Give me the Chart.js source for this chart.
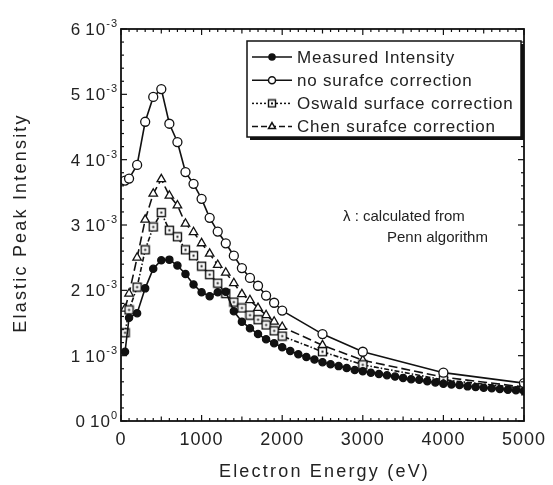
<!DOCTYPE html>
<html>
<head>
<meta charset="utf-8">
<script src="https://cdn.jsdelivr.net/npm/chart.js@4"></script>
<style>
  body { margin: 0; background: #fff; }
  #myChart { display: block; }
</style>
</head>
<body>
<canvas id="myChart" width="553" height="485"></canvas>
<script>
// values, intensity in units of 10^-3
var measuredE = [50,100,200,300,400,500,600,700,800,900,1000,1100,1200,1300,1400,1500,1600,1700,1800,1900,2000,
  2100,2200,2300,2400,2500,2600,2700,2800,2900,3000,3100,3200,3300,3400,3500,3600,3700,3800,3900,4000,
  4100,4200,4300,4400,4500,4600,4700,4800,4900,5000]
var measured = [1.06,1.58,1.65,2.03,2.33,2.46,2.47,2.38,2.25,2.09,1.97,1.91,1.97,1.98,1.68,1.52,1.42,1.33,1.25,1.19,1.13,
  1.07,1.02,0.98,0.94,0.90,0.87,0.84,0.81,0.78,0.76,0.74,0.72,0.70,0.68,0.66,0.64,0.63,0.61,0.59,0.57,
  0.56,0.55,0.53,0.52,0.51,0.50,0.49,0.48,0.47,0.46]

var calcE = [50,100,200,300,400,500,600,700,800,900,1000,1100,1200,1300,1400,1500,1600,1700,1800,1900,2000,2500,3000,4000,5000]
var noCorrection = [3.68,3.71,3.92,4.58,4.96,5.08,4.55,4.27,3.81,3.63,3.40,3.11,2.90,2.72,2.53,2.34,2.19,2.07,1.92,1.81,1.69,1.33,1.06,0.74,0.58]
var oswald = [1.35,1.70,2.05,2.62,2.97,3.19,2.92,2.82,2.62,2.53,2.37,2.24,2.11,1.95,1.82,1.73,1.62,1.55,1.47,1.38,1.30,1.06,0.86,0.63,0.50]
var chen = [1.72,1.95,2.50,3.08,3.48,3.70,3.45,3.30,3.02,2.89,2.72,2.56,2.39,2.27,2.11,1.94,1.85,1.73,1.62,1.52,1.44,1.16,0.93,0.67,0.52]

var seriesNames = ['Measured Intensity','no surafce correction','Oswald surface correction','Chen surafce correction']
var xTicks = [0,1000,2000,3000,4000,5000]
var yTicks = [0,1,2,3,4,5,6]
var yExp = ['0','-3','-3','-3','-3','-3','-3']

var INK = '#111'

function pts(xs, ys) {
  var out = []
  for (var i = 0; i < xs.length; i++) out.push({x: xs[i], y: ys[i] * 1e-3})
  return out
}

function squareMarker(size) {
  var c = document.createElement('canvas')
  c.width = size + 2; c.height = size + 2
  var g = c.getContext('2d')
  g.fillStyle = '#fff'
  g.fillRect(1, 1, size, size)
  g.strokeStyle = INK
  g.lineWidth = 1.4
  g.strokeRect(1.5, 1.5, size - 1, size - 1)
  g.fillStyle = INK
  var m = (size + 2) / 2
  g.fillRect(m - 1, m - 1, 2, 2)
  return c
}

var sqBig = squareMarker(9)
var sqSmall = squareMarker(8)

var styles = [
  {dash: [], point: 'circle', r: 3.6, fill: INK, legendR: 3},
  {dash: [], point: 'circle', r: 4.5, fill: '#fff', legendR: 3.5},
  {dash: [5, 2, 1.5, 2], point: sqBig, r: 4.5, fill: '#fff', legendPoint: sqSmall, legendDash: [2, 2]},
  {dash: [9, 4], point: 'triangle', r: 4.9, fill: '#fff', legendR: 4, legendDash: [6, 3]}
]

function line(ctx, x1, y1, x2, y2) {
  ctx.beginPath(); ctx.moveTo(x1, y1); ctx.lineTo(x2, y2); ctx.stroke()
}

var extras = {
  id: 'extras',
  afterDraw: function(chart) {
    var ctx = chart.ctx
    var xs = chart.scales.x, ys = chart.scales.y
    var a = chart.chartArea
    ctx.save()
    ctx.strokeStyle = INK
    ctx.fillStyle = INK
    ctx.setLineDash([])

    // frame
    ctx.lineWidth = 1.8
    ctx.strokeRect(a.left, a.top, a.right - a.left, a.bottom - a.top)

    // inward ticks
    ctx.lineWidth = 1.2
    for (var e = 0; e <= 5000; e += 100) {
      var px = xs.getPixelForValue(e)
      var len = e % 1000 === 0 ? 6 : (e % 500 === 0 ? 4.5 : 3)
      line(ctx, px, a.bottom, px, a.bottom - len)
      line(ctx, px, a.top, px, a.top + len)
    }
    for (var i = 0; i <= 30; i++) {
      var py = ys.getPixelForValue(i * 0.2e-3)
      var ly = i % 5 === 0 ? 6 : 3
      line(ctx, a.left, py, a.left + ly, py)
      line(ctx, a.right, py, a.right - ly, py)
    }

    ctx.fillStyle = '#222'
    ctx.letterSpacing = '1px'

    // x tick labels
    ctx.font = '18px "Liberation Sans", Arial, sans-serif'
    ctx.textAlign = 'center'
    ctx.textBaseline = 'middle'
    xTicks.forEach(function(t) {
      ctx.fillText(String(t), xs.getPixelForValue(t), a.bottom + 19)
    })

    // y tick labels "n 10^e"
    ctx.textAlign = 'left'
    ctx.textBaseline = 'alphabetic'
    yTicks.forEach(function(t, k) {
      var py = ys.getPixelForValue(t * 1e-3)
      ctx.font = '11px "Liberation Sans", Arial, sans-serif'
      var w2 = ctx.measureText(yExp[k]).width
      ctx.font = '17px "Liberation Sans", Arial, sans-serif'
      var w1 = ctx.measureText('10').width
      var w0 = ctx.measureText(String(t)).width
      var right = a.left - 3
      ctx.fillText('10', right - w2 - w1, py + 6)
      ctx.fillText(String(t), right - w2 - w1 - 4 - w0, py + 6)
      ctx.font = '11px "Liberation Sans", Arial, sans-serif'
      ctx.fillText(yExp[k], right - w2, py - 2)
    })

    // axis titles
    ctx.font = '18px "Liberation Sans", Arial, sans-serif'
    ctx.letterSpacing = '2.2px'
    ctx.textAlign = 'center'
    ctx.textBaseline = 'middle'
    ctx.fillText('Electron Energy (eV)', (a.left + a.right) / 2 + 2, 472)
    ctx.save()
    ctx.translate(21, (a.top + a.bottom) / 2 - 2)
    ctx.rotate(-Math.PI / 2)
    ctx.fillText('Elastic Peak Intensity', 0, 0)
    ctx.restore()

    // annotation
    ctx.letterSpacing = '0px'
    ctx.font = '15px "Liberation Sans", Arial, sans-serif'
    ctx.textAlign = 'left'
    ctx.fillText('\u03bb : calculated from', 343, 217)
    ctx.fillText('Penn algorithm', 387, 238)

    // legend box with shadow
    var bx = 247, by = 41, bw = 274, bh = 96
    ctx.fillStyle = INK
    ctx.fillRect(bx + 3, by + 3, bw, bh)
    ctx.fillStyle = '#fff'
    ctx.fillRect(bx, by, bw, bh)
    ctx.lineWidth = 1.5
    ctx.strokeRect(bx, by, bw, bh)

    ctx.font = '17px "Liberation Sans", Arial, sans-serif'
    ctx.letterSpacing = '0.8px'
    for (var j = 0; j < seriesNames.length; j++) {
      var st = styles[j]
      var ey = 57 + j * 23.2
      ctx.strokeStyle = INK
      ctx.lineWidth = 1.5
      ctx.setLineDash(st.legendDash || [])
      line(ctx, 252, ey, 292, ey)
      ctx.setLineDash([])
      if (st.legendPoint) {
        ctx.drawImage(st.legendPoint, 272 - st.legendPoint.width / 2, ey - st.legendPoint.height / 2)
      } else {
        ctx.fillStyle = st.fill
        ctx.strokeStyle = INK
        Chart.helpers.drawPoint(ctx, {pointStyle: st.point, radius: st.legendR, borderWidth: 1.2, rotation: 0}, 272, ey)
      }
      ctx.fillStyle = '#222'
      ctx.fillText(seriesNames[j], 297, ey + 1)
    }
    ctx.restore()
  }
}

var allSeries = [measured, noCorrection, oswald, chen]
var allE = [measuredE, calcE, calcE, calcE]
var datasets = []
for (var k = 0; k < allSeries.length; k++) {
  datasets.push({
    label: seriesNames[k],
    data: pts(allE[k], allSeries[k]),
    borderColor: INK,
    borderWidth: 1.6,
    borderDash: styles[k].dash,
    tension: 0,
    pointStyle: styles[k].point,
    pointRadius: styles[k].r,
    pointBackgroundColor: styles[k].fill,
    pointBorderColor: INK,
    pointBorderWidth: 1.3,
    fill: false
  })
}

var ctx = document.getElementById('myChart').getContext('2d')
var chart = new Chart(ctx, {
  type: 'line',
  data: {datasets: datasets},
  options: {
    responsive: false,
    animation: false,
    devicePixelRatio: 1,
    layout: {padding: {left: 121, right: 29, top: 29, bottom: 64}},
    scales: {
      x: {type: 'linear', min: 0, max: 5000, display: false},
      y: {type: 'linear', min: 0, max: 0.006, display: false}
    },
    plugins: {legend: {display: false}, tooltip: {enabled: false}}
  },
  plugins: [extras]
})
</script>
</body>
</html>
